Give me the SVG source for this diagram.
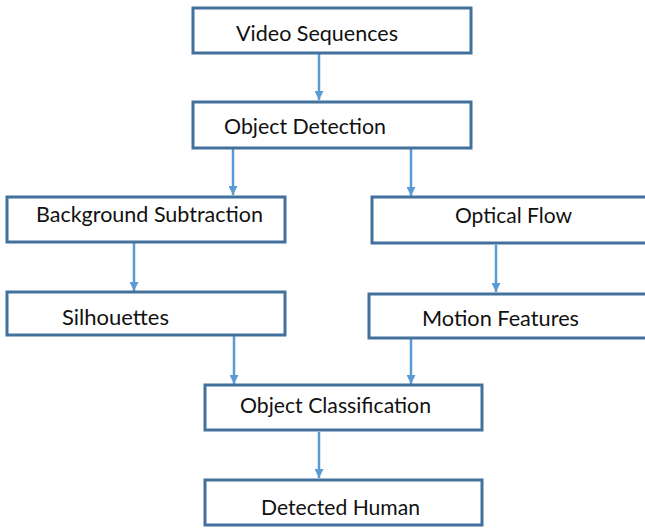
<svg xmlns="http://www.w3.org/2000/svg" width="645" height="531" viewBox="0 0 645 531">
<defs>
<style>
.box{fill:#ffffff;stroke:#41719C;stroke-width:3}
.lbl{font-family:Lato,"Open Sans","Liberation Sans",sans-serif;font-size:21px;fill:#111111}
.con{stroke:#5B9BD5;stroke-width:2.5;fill:none;marker-end:url(#ah)}
</style>
<marker id="ah" viewBox="0 0 10 10" refX="10" refY="5" markerWidth="3.6" markerHeight="3.6" markerUnits="strokeWidth" orient="auto">
<path d="M0,0 L10,5 L0,10 Z" fill="#5B9BD5"/>
</marker>
</defs>
<rect width="645" height="531" fill="#ffffff"/>
<g id="connectors">
<line class="con" x1="319" y1="54" x2="319" y2="100"/>
<line class="con" x1="233" y1="149" x2="233" y2="195"/>
<line class="con" x1="411" y1="149" x2="411" y2="196"/>
<line class="con" x1="134" y1="243" x2="134" y2="291"/>
<line class="con" x1="496" y1="245" x2="496" y2="292"/>
<line class="con" x1="234" y1="336" x2="234" y2="384"/>
<line class="con" x1="411" y1="339" x2="411" y2="384"/>
<line class="con" x1="319" y1="432" x2="319" y2="478"/>
</g>
<g id="video-sequences">
<rect class="box" x="193" y="8" width="278" height="45"/>
<text class="lbl" x="236" y="41" textLength="162" lengthAdjust="spacingAndGlyphs">Video Sequences</text>
</g>
<g id="object-detection">
<rect class="box" x="193" y="102" width="278" height="46"/>
<text class="lbl" x="224" y="134" textLength="162" lengthAdjust="spacingAndGlyphs">Object Detection</text>
</g>
<g id="background-subtraction">
<rect class="box" x="7" y="197" width="278" height="45"/>
<text class="lbl" x="36" y="222" textLength="227" lengthAdjust="spacingAndGlyphs">Background Subtraction</text>
</g>
<g id="optical-flow">
<rect class="box" x="372" y="197" width="276" height="46"/>
<text class="lbl" x="455" y="223" textLength="117" lengthAdjust="spacingAndGlyphs">Optical Flow</text>
</g>
<g id="silhouettes">
<rect class="box" x="7" y="292" width="278" height="43"/>
<text class="lbl" x="62" y="325" textLength="107" lengthAdjust="spacingAndGlyphs">Silhouettes</text>
</g>
<g id="motion-features">
<rect class="box" x="369" y="294" width="279" height="44"/>
<text class="lbl" x="422" y="326" textLength="157" lengthAdjust="spacingAndGlyphs">Motion Features</text>
</g>
<g id="object-classification">
<rect class="box" x="205" y="385" width="277" height="45"/>
<text class="lbl" x="240" y="413" textLength="191" lengthAdjust="spacingAndGlyphs">Object Classification</text>
</g>
<g id="detected-human">
<rect class="box" x="205" y="480" width="277" height="45"/>
<text class="lbl" x="261" y="515" textLength="159" lengthAdjust="spacingAndGlyphs">Detected Human</text>
</g>
</svg>
